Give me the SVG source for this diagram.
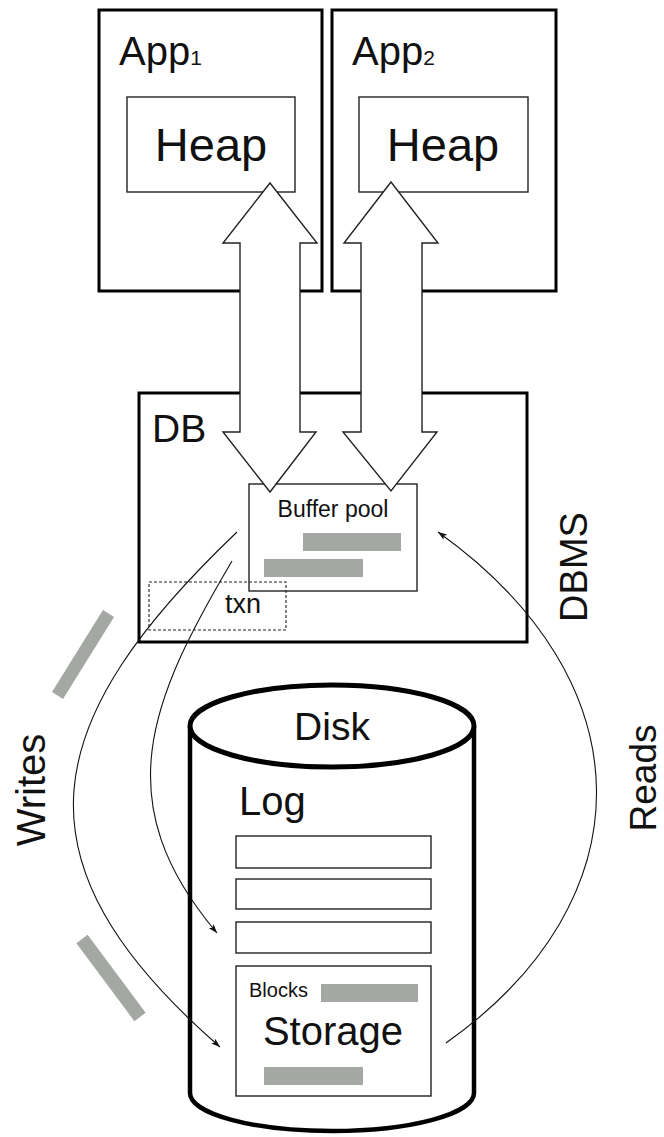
<svg xmlns="http://www.w3.org/2000/svg" width="664" height="1137" viewBox="0 0 664 1137">
<style>
text{font-family:"Liberation Sans",Arial,sans-serif;fill:#111}
.thick{fill:#fff;stroke:#000;stroke-width:3}
.thin{fill:#fff;stroke:#222;stroke-width:1.4}
.bar{fill:#a3a8a3}
.big{fill:#fff;stroke:#222;stroke-width:1.4;stroke-linejoin:miter}
.curve{fill:none;stroke:#111;stroke-width:1.1}
</style>
<defs>
<marker id="ah" markerUnits="userSpaceOnUse" markerWidth="10" markerHeight="8" refX="9" refY="4" orient="auto">
<path d="M0,0.8 L9,4 L0,7.2 L2,4 Z" fill="#111"/>
</marker>
</defs>

<g id="app1">
<rect class="thick" x="99" y="10" width="223" height="281"/>
<text x="119" y="65" font-size="40">App<tspan font-size="21">1</tspan></text>
<rect class="thin" x="127" y="97" width="168" height="95"/>
<text x="211" y="161" font-size="47" text-anchor="middle">Heap</text>
</g>

<g id="app2">
<rect class="thick" x="332" y="10" width="224" height="281"/>
<text x="352" y="65" font-size="40">App<tspan font-size="21">2</tspan></text>
<rect class="thin" x="359" y="97" width="169" height="95"/>
<text x="443" y="161" font-size="47" text-anchor="middle">Heap</text>
</g>

<g id="db">
<rect class="thick" x="139" y="393" width="388" height="249"/>
<text x="152" y="442" font-size="39">DB</text>
<g id="bufferpool">
<rect class="thin" x="249" y="484" width="168" height="107"/>
<text x="333" y="517" font-size="23" text-anchor="middle">Buffer pool</text>
<rect class="bar" x="303" y="533" width="98" height="18"/>
<rect class="bar" x="264" y="559" width="99" height="18"/>
</g>
<g id="txn">
<rect x="149" y="582" width="137" height="48" fill="none" stroke="#222" stroke-width="1.1" stroke-dasharray="3,2"/>
<text x="225" y="613" font-size="27" fill="#333">txn</text>
</g>
</g>

<g id="dbms-label">
<text transform="translate(587,567) rotate(-90)" font-size="38" text-anchor="middle">DBMS</text>
</g>

<g id="disk">
<path d="M190,727 L190,1093 A142,38 0 0 0 474,1093 L474,727" fill="#fff" stroke="#000" stroke-width="4.5"/>
<ellipse cx="332" cy="726" rx="142" ry="41" fill="#fff" stroke="#000" stroke-width="5"/>
<text x="332" y="740" font-size="39" text-anchor="middle">Disk</text>
<text x="239" y="815" font-size="40">Log</text>
<rect class="thin" x="236" y="836" width="195" height="32"/>
<rect class="thin" x="236" y="879" width="195" height="30"/>
<rect class="thin" x="236" y="922" width="195" height="31"/>
<g id="storage">
<rect class="thin" x="236" y="966" width="195" height="130"/>
<text x="249" y="997" font-size="20">Blocks</text>
<rect class="bar" x="321" y="984" width="97" height="18"/>
<text x="333" y="1045" font-size="40" text-anchor="middle">Storage</text>
<rect class="bar" x="264" y="1067" width="99" height="18"/>
</g>
</g>

<g id="connectors">
<polygon class="big" points="270,183 317,243 300,243 300,432 316,432 270,492 223,432 240,432 240,243 223,243"/>
<polygon class="big" points="391,182 438,243 422,243 422,432 437,432 391,491 343,432 361,432 361,243 344,243"/>
<path class="curve" d="M237,532 C40,720 5,860 220,1047" marker-end="url(#ah)"/>
<path class="curve" d="M232,561 C150,700 106,802 217,933" marker-end="url(#ah)"/>
<path class="curve" d="M446,1043 C648,900 648,682 438,532" marker-end="url(#ah)"/>
</g>

<g id="writes-label">
<line x1="57.5" y1="695.5" x2="108.5" y2="613.5" stroke="#a3a8a3" stroke-width="13"/>
<line x1="82" y1="939" x2="140" y2="1017" stroke="#a3a8a3" stroke-width="14"/>
<text transform="translate(45,790) rotate(-90)" font-size="40" text-anchor="middle">Writes</text>
</g>

<g id="reads-label">
<text transform="translate(656,778) rotate(-90)" font-size="37" text-anchor="middle">Reads</text>
</g>
</svg>
